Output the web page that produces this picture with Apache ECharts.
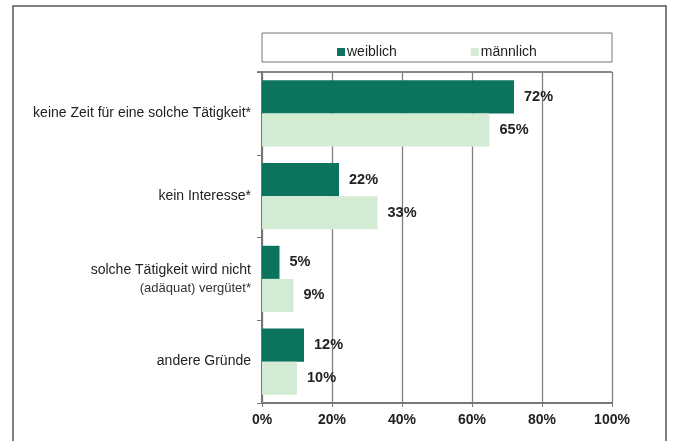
<!DOCTYPE html>
<html><head><meta charset="utf-8">
<script src="https://cdn.jsdelivr.net/npm/echarts@6/dist/echarts.min.js"></script>
<style>html,body{margin:0;padding:0;background:#fff}#c{width:673px;height:441px}</style>
</head><body><div id="c"></div>
<script>
const categories = ["keine Zeit für eine solche Tätigkeit*", "kein Interesse*", "solche Tätigkeit wird nicht\n{s|(adäquat) vergütet*}", "andere Gründe"];
const weiblich = [72, 22, 5, 12];
const maennlich = [65, 33, 9, 10];
const xTicks = [0, 20, 40, 60, 80, 100];

const chart = echarts.init(document.getElementById('c'));
const lbl = {show:true, position:'right', distance:10, formatter:'{c}%', color:'#222', fontFamily:'Liberation Sans, Arial', fontSize:14.5, fontWeight:'bold'};
chart.setOption({
  animation:false,
  textStyle:{fontFamily:'Liberation Sans, Arial'},
  graphic:[
    {type:'rect', shape:{x:13,y:6,width:653,height:450}, style:{fill:'none', stroke:'#555', lineWidth:1.5}, z:-1},
    {type:'rect', shape:{x:262,y:33,width:350,height:29}, style:{fill:'#fff', stroke:'#777', lineWidth:1}, z:-1},
    {type:'line', shape:{x1:257,y1:72,x2:612,y2:72}, style:{stroke:'#888', lineWidth:2}}
  ],
  legend:{left:332, top:40, itemWidth:8, itemHeight:8, itemGap:74, icon:'rect',
    textStyle:{fontSize:14, color:'#222', padding:[0,0,0,-3]},
    data:['weiblich','männlich']},
  grid:{left:262, right:61, top:72, bottom:38},
  xAxis:{type:'value', min:xTicks[0], max:xTicks[xTicks.length-1], interval:20,
    axisLine:{show:true, lineStyle:{color:'#777', width:2}},
    axisTick:{show:true, length:4, lineStyle:{color:'#777'}},
    splitLine:{show:true, lineStyle:{color:'#808080', width:1.3}},
    axisLabel:{formatter:'{value}%', color:'#222', fontSize:14, fontWeight:'bold', margin:10}},
  yAxis:{type:'category', inverse:true, data:categories,
    axisLine:{show:true, lineStyle:{color:'#777', width:2}},
    axisTick:{show:true, length:5, lineStyle:{color:'#777'}},
    axisLabel:{color:'#222', fontSize:14, margin:11, align:'right', lineHeight:20,
      rich:{s:{fontSize:13, color:'#333', lineHeight:18}}}},
  series:[
    {name:'weiblich', type:'bar', data:weiblich, barGap:'0%', barCategoryGap:'20%',
      itemStyle:{color:'#0b735e'}, label:lbl},
    {name:'männlich', type:'bar', data:maennlich,
      itemStyle:{color:'#d3ebd3'}, label:lbl}
  ]
});
</script></body></html>
